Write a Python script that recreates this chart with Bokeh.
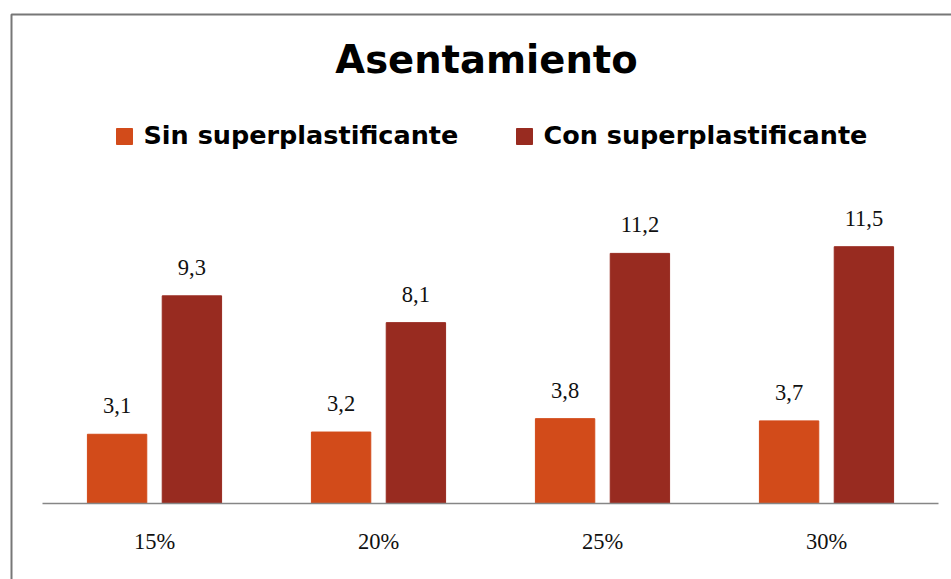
import numpy as np
from bokeh.plotting import figure
from bokeh.models import Range1d, ColumnDataSource, Label
from bokeh.core.properties import value
from bokeh.transform import dodge
from bokeh.embed import file_html
from bokeh.resources import INLINE

# --- data -------------------------------------------------------------
categories = ["15%", "20%", "25%", "30%"]
sin_super = [3.1, 3.2, 3.8, 3.7]
con_super = [9.3, 8.1, 11.2, 11.5]
series_names = ["Sin superplastificante", "Con superplastificante"]
title_text = "Asentamiento"

# --- layout (pixels) ---------------------------------------------------
W, H = 951, 579
PLOT_LEFT, PLOT_RIGHT = 42, 938      # extent of the category axis
BASE_Y = 503                         # pixel row of the zero line
PX_PER_UNIT = 22.33                  # vertical scale
n = len(categories)
slot = (PLOT_RIGHT - PLOT_LEFT) / n

ORANGE = "#D24B1A"
DARK_RED = "#982B20"
SANS = "DejaVu Sans"
SERIF = value("Liberation Serif")

p = figure(
    width=W, height=H,
    output_backend="svg", toolbar_location=None,
    x_range=Range1d(-PLOT_LEFT / slot, (W - PLOT_LEFT) / slot),
    y_range=Range1d(-(H - BASE_Y) / PX_PER_UNIT, BASE_Y / PX_PER_UNIT),
    x_axis_type=None, y_axis_type=None,
    min_border=0,
)
p.grid.visible = False
p.outline_line_color = None
p.background_fill_color = "white"
p.border_fill_color = "white"

# pixel space for frame decorations (y grows downward)
p.extra_x_ranges = {"px": Range1d(0, W)}
p.extra_y_ranges = {"px": Range1d(H, 0)}

src = ColumnDataSource(dict(
    x=np.arange(n) + 0.5,
    cat=categories,
    sin=sin_super,
    con=con_super,
    sin_lbl=[f"{v:.1f}".replace(".", ",") for v in sin_super],
    con_lbl=[f"{v:.1f}".replace(".", ",") for v in con_super],
))

OFF = 0.167
BAR_W = 0.265

# bars
p.vbar(x=dodge("x", -OFF), top="sin", width=BAR_W, bottom=0, source=src,
       fill_color=ORANGE, line_color=ORANGE)
p.vbar(x=dodge("x", OFF), top="con", width=BAR_W, bottom=0, source=src,
       fill_color=DARK_RED, line_color=DARK_RED)

# value labels
for col, lbl, off in (("sin", "sin_lbl", -OFF), ("con", "con_lbl", OFF)):
    p.text(x=dodge("x", off), y=col, text=lbl, source=src,
           text_font=SERIF, text_font_size="22.5px", text_color="#111111",
           text_align="center", text_baseline="alphabetic", y_offset=-28.5)

# category axis line and labels
p.segment(x0=0, y0=0, x1=n, y1=0, line_color="#868686", line_width=1.5)
p.text(x="x", y=0, text="cat", source=src,
       text_font=SERIF, text_font_size="22.5px", text_color="#111111",
       text_align="center", text_baseline="alphabetic", y_offset=38)

# outer frame (left and top edges)
p.line(x=[11, 11, W], y=[H, 14, 14], x_range_name="px", y_range_name="px",
       line_color="#777777", line_width=2)

# title
p.add_layout(Label(x=486, y=59, text=title_text, x_range_name="px", y_range_name="px",
                   text_font=SANS, text_font_style="bold", text_font_size="38.5px",
                   text_align="center", text_baseline="alphabetic", text_color="black"))

# legend
for sx, color, name in ((116, ORANGE, series_names[0]), (516, DARK_RED, series_names[1])):
    p.quad(left=sx, right=sx + 16, top=128, bottom=144,
           x_range_name="px", y_range_name="px",
           fill_color=color, line_color=color)
    p.add_layout(Label(x=sx + 27, y=134, text=name, x_range_name="px", y_range_name="px",
                       text_font=SANS, text_font_style="bold", text_font_size="25.5px",
                       text_align="left", text_baseline="alphabetic", text_color="black"))

open("out.html", "w").write(file_html(p, INLINE))
